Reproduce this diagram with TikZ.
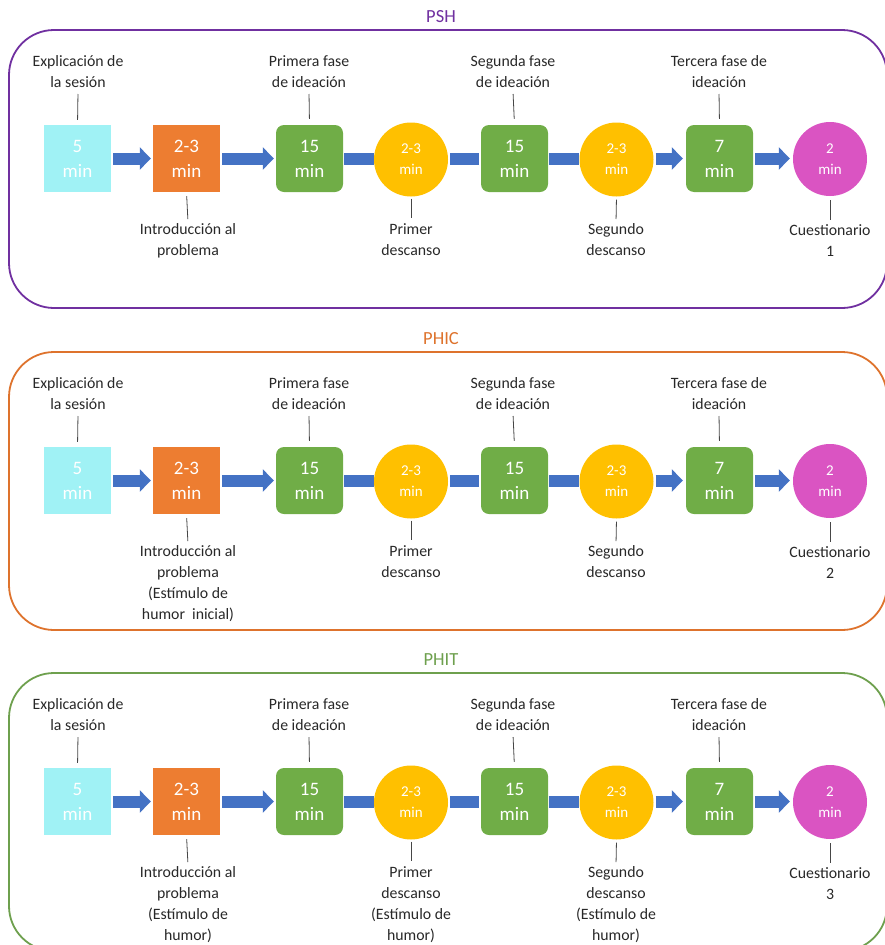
\documentclass[tikz,border=0pt]{standalone}
\usepackage{fontspec}
\setmainfont{Carlito}
\usetikzlibrary{arrows.meta,backgrounds}
\definecolor{cyanbox}{RGB}{160,242,245}
\definecolor{orangebox}{RGB}{237,125,49}
\definecolor{greenbox}{RGB}{112,173,71}
\definecolor{yellowc}{RGB}{255,192,0}
\definecolor{magentac}{RGB}{218,84,194}
\definecolor{arrowblue}{RGB}{68,114,196}
\definecolor{lbl}{RGB}{40,40,40}
\definecolor{tickc}{RGB}{70,70,70}
\definecolor{purplef}{RGB}{112,48,160}
\definecolor{orangef}{RGB}{222,115,45}
\definecolor{greenf}{RGB}{110,160,78}
\newcommand\tstr{\rule{0pt}{12pt}}
\newcommand\bstr{\rule[-4pt]{0pt}{4pt}}
\tikzset{
  sqbox/.style={minimum width=67pt,minimum height=67pt,inner sep=0pt,text=white,align=center,
    font=\fontsize{19}{25}\selectfont},
  rbox/.style={sqbox,fill=greenbox,rounded corners=8pt},
  cnode/.style={circle,minimum size=74pt,inner sep=0pt,text=white,align=center,
    font=\fontsize{15}{21}\selectfont},
  toplbl/.style={anchor=south,inner sep=0pt,align=center,text=lbl,font=\fontsize{15.8}{21}\selectfont},
  botlbl/.style={anchor=north,inner sep=0pt,align=center,text=lbl,font=\fontsize{15.8}{21}\selectfont},
  tick/.style={draw=tickc,line width=0.8pt},
  flowarrow/.style={draw=arrowblue,line width=12pt,-{Triangle[length=11pt,width=22pt]}},
  flowbar/.style={draw=arrowblue,line width=12pt},
  frame/.style={line width=1.8pt,rounded corners=45pt},
  ttl/.style={font=\fontsize{18.5}{22}\selectfont,inner sep=0pt}
}
\newcommand\panel[6]{%
  \draw[frame,draw=#1] (9,30) rectangle (887,308);
  \node[ttl,text=#1] (title) at (441,17) {#2};
  \node[sqbox,fill=cyanbox] (b1) at (77.5,158.5) {5\\min};
  \node[sqbox,fill=orangebox] (b2) at (186.5,158.5) {2-3\\min};
  \node[rbox] (b3) at (309.5,158.5) {15\\min};
  \node[cnode,fill=yellowc] (c1) at (411,159.5) {2-3\\min};
  \node[rbox] (b4) at (514.5,158.5) {15\\min};
  \node[cnode,fill=yellowc] (c2) at (616.5,159.5) {2-3\\min};
  \node[rbox] (b5) at (719.5,158.5) {7\\min};
  \node[cnode,fill=magentac] (c3) at (830,159) {2\\min};
  \draw[flowarrow,shorten <=2pt,shorten >=2pt] (b1.east) -- (b2.west);
  \draw[flowarrow,shorten <=2pt,shorten >=2pt] (b2.east) -- (b3.west);
  \draw[flowbar,shorten <=1pt] (b3.east) -- (b3.east -| c1.west);
  \draw[flowbar,shorten <=2pt,shorten >=2pt] (b4.west -| c1.east) -- (b4.west);
  \draw[flowbar,shorten <=1pt] (b4.east) -- (b4.east -| c2.west);
  \draw[flowarrow,shorten <=2pt,shorten >=3pt] (b5.west -| c2.east) -- (b5.west);
  \draw[flowarrow,shorten <=2pt,shorten >=3pt] (b5.east) -- (b5.east -| c3.west);
  \node[toplbl] (t1) at (78,92) {Explicación de\\la sesión\bstr};
  \node[toplbl] (t3) at (309,92) {Primera fase\\de ideación\bstr};
  \node[toplbl] (t4) at (513,92) {Segunda fase\\de ideación\bstr};
  \node[toplbl] (t5) at (719,92) {Tercera fase de\\ideación\bstr};
  \node[botlbl] (l2) at (188,222) {\tstr#3};
  \node[botlbl] (l3) at (411,222) {\tstr#4};
  \node[botlbl] (l4) at (616,222) {\tstr#5};
  \node[botlbl] (l5) at (830,223) {\tstr Cuestionario\\#6};
  \draw[tick,shorten <=2pt,shorten >=5pt] (t1.south) -- (b1.north);
  \draw[tick,shorten <=2pt,shorten >=6pt] (t3.south) -- (b3.north);
  \draw[tick,shorten <=2pt,shorten >=6pt] (t4.south) -- (b4.north);
  \draw[tick,shorten <=2pt,shorten >=6pt] (t5.south) -- (b5.north);
  \draw[tick,shorten <=4pt,shorten >=3pt] (b2.south) -- (l2.north);
  \draw[tick,shorten <=2pt,shorten >=4pt] (c1.south) -- (l3.north);
  \draw[tick,shorten <=3pt,shorten >=3pt] (c2.south) -- (l4.north);
  \draw[tick,shorten <=4pt,shorten >=3pt] (c3.south) -- (l5.north);
}
\begin{document}
\begin{tikzpicture}[x=1pt,y=-1pt]
\useasboundingbox (0,0) rectangle (885,945);
\clip (0,0) rectangle (885,945);
\begin{scope}[name prefix=p1-]
\panel{purplef}{PSH}{Introducción al\\problema}{Primer\\descanso}{Segundo\\descanso}{1}
\end{scope}
\begin{scope}[name prefix=p2-,yshift=-322pt]
\panel{orangef}{PHIC}{Introducción al\\problema\\(Estímulo de\\humor\ \ inicial)}{Primer\\descanso}{Segundo\\descanso}{2}
\end{scope}
\begin{scope}[name prefix=p3-,yshift=-643pt]
\panel{greenf}{PHIT}{Introducción al\\problema\\(Estímulo de\\humor)}{Primer\\descanso\\(Estímulo de\\humor)}{Segundo\\descanso\\(Estímulo de\\humor)}{3}
\end{scope}
\end{tikzpicture}
\end{document}
